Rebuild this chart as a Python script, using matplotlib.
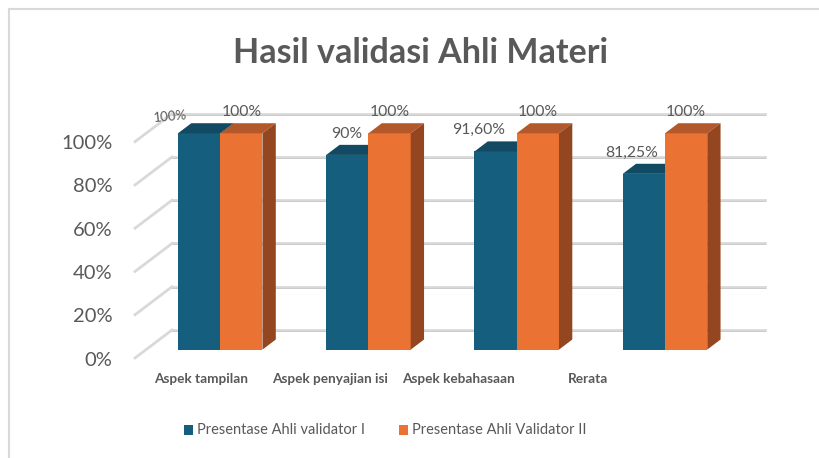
import matplotlib
matplotlib.use("Agg")
import matplotlib.pyplot as plt
from matplotlib.patches import Polygon, Rectangle
from matplotlib.lines import Line2D

# ---------------- data ----------------
categories = ["Aspek tampilan", "Aspek penyajian isi", "Aspek kebahasaan", "Rerata"]
validator1 = [100, 90, 91.6, 81.25]
validator2 = [100, 100, 100, 100]
labels1 = ["100%", "90%", "91,60%", "81,25%"]
labels2 = ["100%", "100%", "100%", "100%"]
series_names = ["Presentase Ahli validator I", "Presentase Ahli Validator II"]
yticks = [0, 20, 40, 60, 80, 100]
ytick_labels = ["0%", "20%", "40%", "60%", "80%", "100%"]
title = "Hasil validasi Ahli Materi"

# ---------------- style ----------------
FONT = ["Lato", "DejaVu Sans"]
plt.rcParams["font.family"] = FONT
TXT = "#595959"
BLUE_F, BLUE_T = "#165E7D", "#124963"
OR_F, OR_T, OR_S = "#EA7232", "#B3582A", "#93461F"
GRID = "#d9d9d9"

W, H = 819, 458
fig = plt.figure(figsize=(W / 100, H / 100), dpi=100)
ax = fig.add_axes([0, 0, 1, 1])
PX_CAT = 148.25   # pixels per category
PX_PCT = 2.163    # pixels per percent
X0_PX = 135       # pixel x of category edge -0.5 (front plane)
Y0_PX = 358       # pixel y (from top) of value 0 (front plane)
xmin = -0.5 - X0_PX / PX_CAT
ax.set_xlim(xmin, xmin + W / PX_CAT)
ymin = -(H - Y0_PX) / PX_PCT
ax.set_ylim(ymin, ymin + H / PX_PCT)
ax.axis("off")

DX = 37 / PX_CAT   # depth offset (category units)
DY = 28 / PX_PCT   # depth offset (value units)
D0, D1 = 0.30, 0.66
BW = 0.285
n = len(categories)
PT = 0.72  # points per pixel at 100 dpi


def proj(x, v, d):
    return (x + d * DX, v + d * DY)


# gridlines: back wall + left wall
for t in yticks:
    xa, ya = proj(-0.5, t, 1)
    xb, yb = proj(n - 0.5, t, 1)
    ax.add_line(Line2D([xa, xb], [ya, yb], color=GRID, lw=2.0, zorder=1))
    ax.add_line(Line2D([xa, xb], [ya - 0.45, yb - 0.45], color="#c8c8c8", lw=0.6, zorder=1))
    xc, yc = proj(-0.5, t, 0)
    ax.add_line(Line2D([xc, xa], [yc, ya], color=GRID, lw=2.0, zorder=1))

# y tick labels
for t, lab in zip(yticks, ytick_labels):
    ax.annotate(lab, (-0.5, t), xytext=(-22.3 * PT, -2 * PT), textcoords="offset points",
                ha="right", va="center", fontsize=14.5, color=TXT)


def draw_bar(x0, x1, v, cf, ct, cs=None, z=2):
    ax.bar((x0 + x1) / 2 + D0 * DX, v, width=x1 - x0, bottom=D0 * DY, color=cf, lw=0, zorder=z)
    top = [proj(x0, v, D0), proj(x1, v, D0), proj(x1, v, D1), proj(x0, v, D1)]
    ax.add_patch(Polygon(top, closed=True, facecolor=ct, lw=0, zorder=z))
    if cs is not None:
        side = [proj(x1, 0, D0), proj(x1, v, D0), proj(x1, v, D1), proj(x1, 0, D1)]
        ax.add_patch(Polygon(side, closed=True, facecolor=cs, lw=0, zorder=z))


blue_label_dx = [-28.5, -1, -16.7, -12.5]   # pixel offsets of blue data labels
blue_label_dy = [7, 11, 11, 11]
blue_label_fs = [9.5, 11.3, 11.3, 11.3]
blue_label_rot = [5, 0, 0, 0]
for i in range(n):
    draw_bar(i - BW, i, validator1[i], BLUE_F, BLUE_T, BLUE_F, z=2)
    draw_bar(i, i + BW, validator2[i], OR_F, OR_T, OR_S, z=3)
    # data labels: x at front-face centre, y above the back edge of the top face
    bx = proj(i - BW / 2, validator1[i], D0)[0]
    by = proj(i - BW / 2, validator1[i], D1)[1]
    ax.annotate(labels1[i], (bx, by), xytext=(blue_label_dx[i] * PT, blue_label_dy[i] * PT),
                textcoords="offset points", ha="center", va="center",
                fontsize=blue_label_fs[i], color=TXT, rotation=blue_label_rot[i], zorder=5)
    ox = proj(i + BW / 2, validator2[i], D0)[0]
    oy = proj(i + BW / 2, validator2[i], D1)[1]
    ax.annotate(labels2[i], (ox, oy), xytext=(0, 11 * PT), textcoords="offset points",
                ha="center", va="center", fontsize=11.3, color=TXT, zorder=5)

# category labels
for i, c in enumerate(categories):
    ax.text(i * 0.87 - 0.055, -(379 - Y0_PX) / PX_PCT, c, ha="center", va="center",
            fontsize=9.8, fontweight="bold", color=TXT)

# title
fig.text(420.7 / W, 1 - 53 / H, title, ha="center", va="center", fontsize=24.5,
         fontweight="bold", color=TXT)

# legend (manual)
leg_items = [(184.3, BLUE_F), (399.0, OR_F)]
for (lx, col), name in zip(leg_items, series_names):
    fig.patches.append(Rectangle((lx / W, 1 - 435 / H), 9 / W, 10 / H, transform=fig.transFigure,
                                 facecolor=col, lw=0))
    fig.text((lx + 12.5) / W, 1 - 430 / H, name, ha="left", va="center", fontsize=10.5, color=TXT)

# chart border
fig.lines.append(Line2D([8.5 / W, 8.5 / W], [0, 1 - 9.3 / H], transform=fig.transFigure,
                        color=GRID, lw=1.5))
fig.lines.append(Line2D([8.5 / W, 1], [1 - 9.3 / H, 1 - 9.3 / H], transform=fig.transFigure,
                        color=GRID, lw=1.5))

fig.savefig("out.png", dpi=100)
